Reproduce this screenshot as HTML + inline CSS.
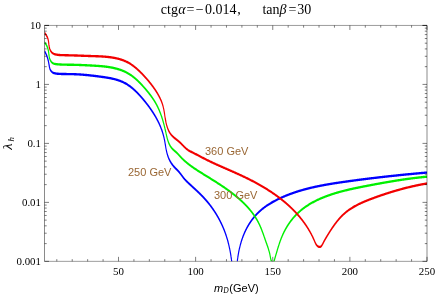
<!DOCTYPE html>
<html><head><meta charset="utf-8"><title>plot</title>
<style>
html,body{margin:0;padding:0;background:#fff;}
body{width:436px;height:294px;overflow:hidden;}
svg{display:block;will-change:transform;}
text{font-family:"Liberation Serif",serif;fill:#000;}
.sans{font-family:"Liberation Sans",sans-serif;}
</style></head><body>
<svg width="436" height="294" viewBox="0 0 436 294">
<rect width="436" height="294" fill="#fff"/>
<defs><clipPath id="c"><rect x="44.5" y="25.45" width="382.5" height="235.90000000000003"/></clipPath></defs>
<g clip-path="url(#c)"><g transform="scale(1,2.05)" fill="none" stroke-width="1.15" stroke-linejoin="round">
<path d="M44.49,24.928 L44.75,25.138 L45.00,25.349 L45.24,25.564 L45.48,25.780 L45.70,25.998 L45.92,26.218 L46.13,26.440 L46.33,26.663 L46.52,26.888 L46.71,27.115 L46.89,27.343 L47.06,27.572 L47.22,27.802 L47.38,28.034 L47.53,28.267 L47.67,28.500 L47.81,28.734 L47.94,28.969 L48.07,29.205 L48.19,29.441 L48.30,29.678 L48.41,29.915 L48.51,30.152 L48.61,30.390 L48.70,30.629 L48.79,30.868 L48.88,31.107 L48.97,31.348 L49.05,31.590 L49.14,31.833 L49.22,32.077 L49.31,32.321 L49.40,32.566 L49.51,32.809 L49.62,33.050 L49.75,33.288 L49.91,33.523 L50.08,33.752 L50.28,33.976 L50.51,34.193 L50.77,34.402 L51.06,34.601 L51.38,34.790 L51.72,34.966 L52.10,35.127 L52.49,35.273 L52.91,35.402 L53.35,35.513 L53.81,35.607 L54.29,35.685 L54.77,35.751 L55.27,35.806 L55.77,35.852 L56.28,35.891 L56.78,35.924 L57.29,35.953 L57.79,35.979 L58.29,36.001 L58.79,36.020 L59.29,36.036 L59.79,36.050 L60.28,36.062 L60.78,36.071 L61.28,36.080 L61.77,36.086 L62.27,36.092 L62.77,36.097 L63.27,36.102 L63.76,36.106 L64.26,36.109 L64.76,36.113 L65.26,36.116 L65.76,36.119 L66.26,36.122 L66.77,36.125 L67.27,36.128 L67.77,36.131 L68.27,36.134 L68.77,36.138 L69.27,36.141 L69.77,36.145 L70.28,36.148 L70.78,36.153 L71.28,36.157 L71.78,36.162 L72.28,36.168 L72.78,36.174 L73.28,36.181 L73.78,36.188 L74.28,36.196 L74.78,36.205 L75.27,36.214 L75.77,36.225 L76.27,36.236 L76.76,36.247 L77.26,36.259 L77.75,36.272 L78.25,36.286 L78.74,36.300 L79.24,36.315 L79.73,36.330 L80.22,36.346 L80.72,36.363 L81.21,36.380 L81.70,36.398 L82.19,36.416 L82.69,36.435 L83.18,36.455 L83.67,36.475 L84.16,36.495 L84.65,36.516 L85.15,36.538 L85.64,36.560 L86.13,36.583 L86.62,36.606 L87.11,36.629 L87.61,36.653 L88.10,36.678 L88.59,36.703 L89.08,36.728 L89.58,36.754 L90.07,36.780 L90.56,36.806 L91.06,36.833 L91.55,36.861 L92.05,36.889 L92.54,36.917 L93.04,36.945 L93.53,36.974 L94.03,37.003 L94.52,37.032 L95.02,37.062 L95.52,37.092 L96.02,37.123 L96.52,37.153 L97.01,37.184 L97.51,37.216 L98.01,37.247 L98.52,37.279 L99.02,37.311 L99.52,37.343 L100.02,37.375 L100.53,37.408 L101.03,37.441 L101.54,37.474 L102.04,37.508 L102.55,37.542 L103.06,37.577 L103.56,37.612 L104.07,37.648 L104.58,37.684 L105.08,37.721 L105.59,37.759 L106.10,37.798 L106.60,37.837 L107.11,37.878 L107.62,37.919 L108.12,37.962 L108.62,38.005 L109.13,38.050 L109.63,38.096 L110.13,38.143 L110.63,38.192 L111.13,38.241 L111.63,38.292 L112.13,38.345 L112.63,38.399 L113.12,38.454 L113.61,38.512 L114.11,38.570 L114.60,38.631 L115.08,38.693 L115.57,38.757 L116.05,38.823 L116.54,38.891 L117.02,38.961 L117.50,39.033 L117.97,39.107 L118.45,39.183 L118.92,39.261 L119.39,39.341 L119.85,39.424 L120.32,39.509 L120.78,39.596 L121.24,39.686 L121.69,39.778 L122.14,39.873 L122.59,39.970 L123.04,40.070 L123.48,40.173 L123.92,40.278 L124.35,40.386 L124.79,40.497 L125.22,40.611 L125.64,40.727 L126.06,40.845 L126.48,40.967 L126.90,41.090 L127.31,41.216 L127.73,41.344 L128.13,41.475 L128.54,41.608 L128.94,41.743 L129.34,41.881 L129.74,42.020 L130.13,42.162 L130.52,42.306 L130.91,42.451 L131.29,42.599 L131.68,42.748 L132.06,42.900 L132.44,43.053 L132.81,43.208 L133.19,43.365 L133.56,43.524 L133.93,43.684 L134.29,43.846 L134.66,44.009 L135.02,44.174 L135.38,44.340 L135.74,44.508 L136.10,44.677 L136.45,44.847 L136.80,45.019 L137.15,45.192 L137.50,45.367 L137.85,45.542 L138.19,45.718 L138.54,45.896 L138.88,46.075 L139.22,46.254 L139.56,46.435 L139.90,46.616 L140.23,46.798 L140.57,46.981 L140.90,47.165 L141.23,47.350 L141.56,47.535 L141.89,47.721 L142.22,47.907 L142.55,48.094 L142.88,48.281 L143.20,48.469 L143.52,48.658 L143.85,48.847 L144.17,49.036 L144.49,49.226 L144.81,49.417 L145.12,49.608 L145.44,49.800 L145.76,49.992 L146.07,50.184 L146.38,50.378 L146.69,50.571 L147.00,50.766 L147.31,50.960 L147.61,51.156 L147.92,51.352 L148.22,51.548 L148.52,51.745 L148.82,51.942 L149.12,52.140 L149.42,52.339 L149.71,52.538 L150.00,52.738 L150.29,52.938 L150.58,53.138 L150.87,53.340 L151.15,53.541 L151.44,53.744 L151.72,53.947 L152.00,54.150 L152.28,54.354 L152.55,54.559 L152.83,54.764 L153.10,54.969 L153.37,55.176 L153.63,55.382 L153.90,55.590 L154.16,55.798 L154.42,56.006 L154.68,56.215 L154.94,56.425 L155.19,56.635 L155.44,56.846 L155.69,57.057 L155.94,57.269 L156.18,57.481 L156.42,57.694 L156.66,57.908 L156.90,58.122 L157.13,58.337 L157.37,58.552 L157.60,58.768 L157.82,58.984 L158.05,59.201 L158.27,59.419 L158.49,59.637 L158.70,59.856 L158.92,60.075 L159.13,60.295 L159.34,60.516 L159.54,60.737 L159.74,60.958 L159.94,61.181 L160.14,61.404 L160.33,61.627 L160.52,61.851 L160.71,62.076 L160.89,62.301 L161.08,62.527 L161.25,62.753 L161.43,62.980 L161.60,63.208 L161.77,63.436 L161.94,63.665 L162.10,63.894 L162.26,64.124 L162.42,64.355 L162.57,64.586 L162.72,64.818 L162.86,65.051 L163.01,65.284 L163.15,65.518 L163.28,65.752 L163.42,65.987 L163.54,66.222 L163.67,66.459 L163.79,66.695 L163.91,66.933 L164.03,67.171 L164.14,67.409 L164.24,67.649 L164.35,67.889 L164.45,68.129 L164.55,68.370 L164.64,68.611 L164.73,68.853 L164.82,69.095 L164.91,69.338 L165.00,69.580 L165.08,69.823 L165.17,70.066 L165.25,70.309 L165.34,70.552 L165.42,70.795 L165.50,71.038 L165.59,71.281 L165.67,71.524 L165.76,71.766 L165.84,72.008 L165.93,72.250 L166.02,72.491 L166.12,72.732 L166.21,72.972 L166.31,73.212 L166.41,73.451 L166.51,73.690 L166.62,73.927 L166.73,74.164 L166.85,74.401 L166.97,74.636 L167.10,74.870 L167.23,75.103 L167.36,75.336 L167.51,75.567 L167.65,75.797 L167.81,76.025 L167.97,76.253 L168.14,76.479 L168.31,76.704 L168.49,76.927 L168.68,77.149 L168.87,77.370 L169.07,77.589 L169.28,77.806 L169.49,78.022 L169.72,78.236 L169.94,78.449 L170.18,78.660 L170.42,78.869 L170.67,79.076 L170.92,79.282 L171.19,79.486 L171.45,79.688 L171.73,79.888 L172.01,80.086 L172.30,80.282 L172.60,80.476 L172.90,80.668 L173.21,80.857 L173.53,81.045 L173.85,81.231 L174.18,81.414 L174.52,81.595 L174.86,81.773 L175.21,81.950 L175.57,82.125 L175.92,82.299 L176.28,82.473 L176.64,82.646 L177.00,82.820 L177.36,82.994 L177.71,83.170 L178.06,83.347 L178.40,83.527 L178.73,83.709 L179.06,83.894 L179.38,84.081 L179.69,84.270 L180.00,84.461 L180.31,84.653 L180.61,84.846 L180.91,85.041 L181.20,85.236 L181.50,85.431 L181.79,85.626 L182.09,85.821 L182.38,86.016 L182.68,86.210 L182.97,86.403 L183.28,86.595 L183.58,86.786 L183.89,86.975 L184.21,87.161 L184.53,87.346 L184.85,87.528 L185.19,87.707 L185.53,87.885 L185.87,88.060 L186.22,88.234 L186.57,88.406 L186.93,88.577 L187.29,88.746 L187.65,88.915 L188.01,89.083 L188.38,89.251 L188.74,89.418 L189.11,89.585 L189.48,89.751 L189.84,89.918 L190.21,90.084 L190.58,90.250 L190.95,90.416 L191.31,90.582 L191.68,90.748 L192.05,90.914 L192.42,91.079 L192.79,91.245 L193.16,91.410 L193.53,91.576 L193.89,91.742 L194.26,91.908 L194.63,92.074 L195.00,92.240 L195.37,92.406 L195.73,92.573 L196.10,92.739 L196.47,92.906 L196.83,93.074 L197.19,93.241 L197.56,93.409 L197.92,93.578 L198.28,93.746 L198.65,93.915 L199.01,94.085 L199.37,94.255 L199.72,94.425 L200.08,94.596 L200.44,94.768 L200.79,94.940 L201.14,95.113 L201.50,95.286 L201.85,95.460 L202.20,95.635 L202.54,95.810 L202.89,95.986 L203.23,96.163 L203.58,96.341 L203.92,96.520 L204.26,96.699 L204.59,96.879 L204.93,97.060 L205.26,97.242 L205.59,97.424 L205.92,97.608 L206.25,97.792 L206.58,97.977 L206.90,98.163 L207.23,98.349 L207.55,98.537 L207.87,98.725 L208.18,98.914 L208.50,99.103 L208.81,99.293 L209.12,99.485 L209.43,99.676 L209.74,99.869 L210.04,100.062 L210.35,100.256 L210.65,100.451 L210.95,100.647 L211.25,100.843 L211.54,101.040 L211.83,101.237 L212.13,101.435 L212.42,101.634 L212.70,101.834 L212.99,102.034 L213.27,102.235 L213.56,102.437 L213.84,102.639 L214.11,102.842 L214.39,103.046 L214.66,103.250 L214.94,103.455 L215.21,103.660 L215.47,103.866 L215.74,104.073 L216.00,104.280 L216.26,104.488 L216.52,104.697 L216.78,104.906 L217.04,105.116 L217.29,105.326 L217.54,105.537 L217.79,105.748 L218.04,105.960 L218.28,106.173 L218.52,106.386 L218.77,106.600 L219.00,106.814 L219.24,107.029 L219.47,107.244 L219.71,107.460 L219.94,107.677 L220.16,107.894 L220.39,108.111 L220.61,108.329 L220.84,108.547 L221.05,108.766 L221.27,108.986 L221.49,109.206 L221.70,109.426 L221.91,109.647 L222.12,109.869 L222.32,110.090 L222.53,110.313 L222.73,110.535 L222.93,110.759 L223.12,110.982 L223.32,111.206 L223.51,111.431 L223.70,111.656 L223.89,111.881 L224.08,112.107 L224.26,112.333 L224.44,112.560 L224.62,112.787 L224.80,113.014 L224.97,113.242 L225.14,113.470 L225.31,113.698 L225.48,113.927 L225.64,114.156 L225.81,114.386 L225.97,114.616 L226.13,114.846 L226.28,115.077 L226.43,115.308 L226.59,115.539 L226.73,115.771 L226.88,116.003 L227.03,116.236 L227.17,116.468 L227.31,116.701 L227.45,116.935 L227.58,117.168 L227.72,117.402 L227.85,117.636 L227.98,117.871 L228.11,118.106 L228.23,118.341 L228.35,118.576 L228.48,118.812 L228.60,119.048 L228.71,119.285 L228.83,119.521 L228.94,119.758 L229.06,119.995 L229.16,120.232 L229.27,120.470 L229.38,120.708 L229.48,120.946 L229.59,121.185 L229.69,121.423 L229.79,121.662 L229.88,121.901 L229.98,122.141 L230.07,122.380 L230.16,122.620 L230.25,122.860 L230.34,123.100 L230.43,123.341 L230.52,123.582 L230.60,123.823 L230.68,124.064 L230.76,124.305 L230.84,124.546 L230.92,124.788 L230.99,125.030 L231.07,125.272 L231.14,125.514 L231.21,125.757 L231.28,125.999 L231.35,126.242 L231.42,126.485 L231.48,126.728 L231.55,126.972 L231.61,127.215 L231.67,127.459 L231.73,127.702 L231.79,127.946 L231.85,128.190 L231.91,128.434 L231.96,128.679 L232.02,128.923 L232.07,129.168 L232.12,129.412 L232.17,129.657 L232.22,129.902 L232.27,130.147 L232.31,130.392 L232.36,130.637 L232.40,130.883 L232.45,131.128 L232.49,131.373 L232.53,131.619 L232.57,131.865 L232.61,132.110 L232.65,132.356 L232.69,132.602 L232.72,132.848 L232.76,133.094 L232.79,133.340 L232.83,133.586 L232.86,133.832 L232.89,134.079 L232.92,134.325 L232.95,134.571 L232.98,134.818 L233.01,135.064 L233.04,135.311 L233.07,135.557 L233.09,135.803 L233.12,136.050 L233.14,136.296 L233.17,136.543 L233.19,136.790 L233.21,137.036 L233.24,137.283 L233.26,137.529 L233.28,137.776 L233.30,138.022 L233.32,138.269 L233.34,138.515 L233.36,138.762 L233.38,139.008 L233.40,139.254 L233.41,139.501 L233.43,139.747 L233.45,139.993 L233.46,140.240 L233.48,140.486 L233.49,140.732 L233.51,140.978 L233.52,141.224 L233.54,141.470 L233.55,141.716 L233.57,141.962 L233.58,142.207 L233.59,142.453 L233.61,142.699 L233.62,142.944 L233.63,143.190 L233.64,143.435 L233.66,143.680 L233.67,143.925 L233.68,144.170 L233.69,144.415 L233.70,144.660 L233.72,144.904 L233.73,145.149 L233.74,145.393 L233.75,145.638 L233.76,145.882 L233.77,146.126 L233.79,146.370 L233.80,146.613 L233.81,146.857 L233.82,147.100 L233.83,147.344 L233.85,147.587 L233.86,147.830 L233.87,148.073 L233.88,148.315 L233.90,148.558 L233.91,148.800 L233.92,149.042 L233.94,149.284 L233.95,149.526 L233.96,149.767 L233.98,150.008 L233.99,150.249 L234.01,150.490 L234.02,150.731 L234.04,150.972 L234.06,151.212 L234.07,151.452 L234.09,151.692 L234.11,151.931 L234.13,152.171 L234.14,152.410 L234.16,152.649 L234.18,152.887 L234.20,153.126 L234.22,153.364 L234.25,153.602 L234.27,153.839 L234.29,154.077 L234.31,154.314 L234.34,154.551 L234.36,154.787 L234.39,155.024 L234.41,155.260 L234.44,155.495 L234.47,155.731 L234.49,155.966 L234.51,156.093 M234.49,156.084 L234.54,155.858 L234.58,155.631 L234.62,155.404 L234.66,155.176 L234.69,154.948 L234.73,154.719 L234.77,154.490 L234.80,154.260 L234.83,154.030 L234.87,153.799 L234.90,153.567 L234.93,153.335 L234.96,153.103 L234.98,152.870 L235.01,152.637 L235.04,152.403 L235.06,152.169 L235.09,151.934 L235.11,151.699 L235.13,151.463 L235.15,151.227 L235.17,150.991 L235.20,150.754 L235.21,150.517 L235.23,150.279 L235.25,150.041 L235.27,149.802 L235.29,149.564 L235.30,149.324 L235.32,149.085 L235.33,148.845 L235.35,148.604 L235.36,148.364 L235.38,148.123 L235.39,147.881 L235.40,147.640 L235.41,147.398 L235.43,147.155 L235.44,146.912 L235.45,146.670 L235.46,146.426 L235.47,146.183 L235.48,145.939 L235.49,145.695 L235.50,145.450 L235.51,145.206 L235.52,144.961 L235.53,144.716 L235.54,144.470 L235.55,144.225 L235.56,143.979 L235.56,143.733 L235.57,143.486 L235.58,143.240 L235.59,142.993 L235.60,142.746 L235.61,142.499 L235.62,142.252 L235.63,142.004 L235.64,141.757 L235.65,141.509 L235.66,141.261 L235.67,141.013 L235.68,140.765 L235.69,140.516 L235.70,140.268 L235.71,140.019 L235.72,139.770 L235.74,139.521 L235.75,139.272 L235.76,139.023 L235.77,138.774 L235.79,138.525 L235.80,138.276 L235.82,138.026 L235.83,137.777 L235.85,137.527 L235.86,137.278 L235.88,137.028 L235.90,136.779 L235.92,136.529 L235.94,136.280 L235.96,136.030 L235.98,135.780 L236.00,135.531 L236.02,135.281 L236.05,135.031 L236.07,134.782 L236.09,134.532 L236.12,134.283 L236.15,134.033 L236.17,133.784 L236.20,133.534 L236.23,133.285 L236.26,133.035 L236.29,132.786 L236.33,132.537 L236.36,132.288 L236.40,132.039 L236.43,131.790 L236.47,131.542 L236.51,131.293 L236.55,131.044 L236.59,130.796 L236.63,130.548 L236.67,130.300 L236.72,130.052 L236.77,129.804 L236.81,129.556 L236.86,129.309 L236.91,129.062 L236.96,128.815 L237.02,128.568 L237.07,128.321 L237.13,128.075 L237.19,127.828 L237.24,127.582 L237.31,127.336 L237.37,127.091 L237.43,126.845 L237.50,126.600 L237.57,126.355 L237.63,126.111 L237.71,125.866 L237.78,125.622 L237.85,125.378 L237.93,125.135 L238.01,124.892 L238.09,124.649 L238.17,124.406 L238.25,124.164 L238.34,123.922 L238.43,123.680 L238.52,123.439 L238.61,123.198 L238.70,122.957 L238.80,122.717 L238.90,122.477 L239.00,122.237 L239.10,121.998 L239.20,121.759 L239.31,121.521 L239.42,121.283 L239.53,121.045 L239.64,120.808 L239.76,120.571 L239.87,120.335 L239.99,120.099 L240.12,119.863 L240.24,119.628 L240.37,119.393 L240.50,119.159 L240.63,118.925 L240.77,118.692 L240.90,118.459 L241.04,118.227 L241.18,117.995 L241.33,117.764 L241.48,117.533 L241.63,117.303 L241.78,117.073 L241.93,116.843 L242.09,116.615 L242.25,116.386 L242.42,116.159 L242.58,115.932 L242.75,115.705 L242.92,115.479 L243.10,115.254 L243.28,115.029 L243.46,114.804 L243.64,114.581 L243.83,114.358 L244.02,114.135 L244.21,113.913 L244.40,113.692 L244.60,113.471 L244.80,113.251 L245.01,113.032 L245.22,112.813 L245.43,112.595 L245.64,112.378 L245.86,112.161 L246.08,111.945 L246.30,111.729 L246.53,111.515 L246.76,111.301 L246.99,111.087 L247.23,110.875 L247.47,110.663 L247.71,110.452 L247.96,110.241 L248.21,110.032 L248.47,109.823 L248.72,109.615 L248.98,109.408 L249.25,109.202 L249.51,108.996 L249.78,108.792 L250.06,108.589 L250.33,108.386 L250.61,108.185 L250.89,107.985 L251.18,107.785 L251.47,107.587 L251.76,107.390 L252.06,107.194 L252.36,106.999 L252.66,106.805 L252.96,106.612 L253.27,106.421 L253.58,106.231 L253.90,106.042 L254.22,105.854 L254.54,105.668 L254.86,105.482 L255.19,105.299 L255.52,105.116 L255.85,104.935 L256.19,104.756 L256.53,104.577 L256.87,104.400 L257.22,104.225 L257.57,104.051 L257.92,103.879 L258.27,103.708 L258.63,103.539 L258.99,103.371 L259.36,103.205 L259.72,103.041 L260.09,102.878 L260.47,102.716 L260.84,102.557 L261.22,102.398 L261.60,102.242 L261.98,102.086 L262.37,101.933 L262.76,101.780 L263.15,101.630 L263.55,101.480 L263.94,101.332 L264.34,101.186 L264.74,101.041 L265.15,100.897 L265.55,100.755 L265.96,100.614 L266.37,100.474 L266.78,100.336 L267.20,100.199 L267.62,100.063 L268.03,99.929 L268.45,99.796 L268.88,99.664 L269.30,99.534 L269.73,99.405 L270.15,99.277 L270.58,99.150 L271.01,99.024 L271.45,98.900 L271.88,98.777 L272.32,98.655 L272.75,98.534 L273.19,98.414 L273.63,98.295 L274.07,98.178 L274.52,98.061 L274.96,97.946 L275.40,97.832 L275.85,97.719 L276.30,97.606 L276.74,97.495 L277.19,97.385 L277.64,97.276 L278.09,97.168 L278.55,97.061 L279.00,96.955 L279.45,96.849 L279.90,96.745 L280.36,96.642 L280.81,96.539 L281.27,96.437 L281.73,96.337 L282.18,96.237 L282.64,96.138 L283.10,96.040 L283.56,95.943 L284.01,95.847 L284.47,95.751 L284.94,95.657 L285.40,95.563 L285.86,95.470 L286.32,95.378 L286.78,95.287 L287.25,95.196 L287.71,95.107 L288.17,95.018 L288.64,94.930 L289.10,94.843 L289.57,94.757 L290.04,94.671 L290.50,94.587 L290.97,94.503 L291.44,94.420 L291.91,94.337 L292.38,94.256 L292.85,94.175 L293.32,94.095 L293.79,94.015 L294.26,93.937 L294.73,93.859 L295.20,93.782 L295.67,93.705 L296.15,93.630 L296.62,93.555 L297.09,93.480 L297.57,93.407 L298.04,93.334 L298.52,93.262 L298.99,93.190 L299.47,93.119 L299.95,93.049 L300.42,92.979 L300.90,92.910 L301.38,92.842 L301.86,92.775 L302.34,92.708 L302.82,92.641 L303.29,92.576 L303.77,92.511 L304.25,92.446 L304.74,92.382 L305.22,92.319 L305.70,92.256 L306.18,92.194 L306.66,92.133 L307.14,92.072 L307.63,92.012 L308.11,91.952 L308.59,91.893 L309.08,91.834 L309.56,91.776 L310.05,91.719 L310.53,91.662 L311.02,91.605 L311.50,91.549 L311.99,91.494 L312.47,91.439 L312.96,91.384 L313.45,91.330 L313.93,91.277 L314.42,91.224 L314.91,91.172 L315.40,91.120 L315.89,91.068 L316.37,91.017 L316.86,90.967 L317.35,90.917 L317.84,90.867 L318.33,90.818 L318.82,90.769 L319.31,90.721 L319.80,90.673 L320.29,90.625 L320.78,90.578 L321.27,90.531 L321.76,90.485 L322.26,90.439 L322.75,90.394 L323.24,90.349 L323.73,90.304 L324.22,90.259 L324.71,90.215 L325.21,90.172 L325.70,90.128 L326.19,90.085 L326.69,90.043 L327.18,90.001 L327.67,89.959 L328.17,89.917 L328.66,89.876 L329.15,89.835 L329.65,89.794 L330.14,89.754 L330.64,89.713 L331.13,89.674 L331.62,89.634 L332.12,89.595 L332.61,89.556 L333.11,89.517 L333.60,89.479 L334.10,89.440 L334.59,89.402 L335.09,89.365 L335.58,89.327 L336.08,89.290 L336.58,89.253 L337.07,89.216 L337.57,89.179 L338.06,89.143 L338.56,89.107 L339.05,89.071 L339.55,89.035 L340.05,88.999 L340.54,88.964 L341.04,88.928 L341.53,88.893 L342.03,88.858 L342.53,88.823 L343.02,88.789 L343.52,88.754 L344.01,88.720 L344.51,88.685 L345.01,88.651 L345.50,88.617 L346.00,88.583 L346.49,88.549 L346.99,88.515 L347.48,88.482 L347.98,88.448 L348.48,88.415 L348.97,88.381 L349.47,88.348 L349.96,88.315 L350.46,88.282 L350.96,88.249 L351.45,88.216 L351.95,88.183 L352.44,88.150 L352.94,88.117 L353.43,88.085 L353.93,88.052 L354.43,88.020 L354.92,87.988 L355.42,87.955 L355.91,87.923 L356.41,87.891 L356.90,87.859 L357.40,87.828 L357.89,87.796 L358.39,87.764 L358.89,87.733 L359.38,87.701 L359.88,87.670 L360.37,87.639 L360.87,87.607 L361.36,87.576 L361.86,87.545 L362.35,87.514 L362.85,87.484 L363.34,87.453 L363.84,87.422 L364.34,87.392 L364.83,87.361 L365.33,87.331 L365.82,87.300 L366.32,87.270 L366.81,87.240 L367.31,87.210 L367.80,87.180 L368.30,87.150 L368.79,87.121 L369.29,87.091 L369.79,87.061 L370.28,87.032 L370.78,87.002 L371.27,86.973 L371.77,86.944 L372.26,86.915 L372.76,86.885 L373.25,86.856 L373.75,86.828 L374.25,86.799 L374.74,86.770 L375.24,86.741 L375.73,86.713 L376.23,86.684 L376.72,86.656 L377.22,86.627 L377.71,86.599 L378.21,86.571 L378.71,86.543 L379.20,86.515 L379.70,86.487 L380.19,86.459 L380.69,86.431 L381.18,86.404 L381.68,86.376 L382.18,86.349 L382.67,86.321 L383.17,86.294 L383.66,86.267 L384.16,86.239 L384.66,86.212 L385.15,86.185 L385.65,86.158 L386.14,86.131 L386.64,86.105 L387.14,86.078 L387.63,86.051 L388.13,86.025 L388.62,85.998 L389.12,85.972 L389.62,85.945 L390.11,85.919 L390.61,85.893 L391.11,85.867 L391.60,85.841 L392.10,85.815 L392.60,85.789 L393.09,85.763 L393.59,85.738 L394.08,85.712 L394.58,85.686 L395.08,85.661 L395.57,85.636 L396.07,85.610 L396.57,85.585 L397.06,85.560 L397.56,85.535 L398.06,85.510 L398.56,85.485 L399.05,85.460 L399.55,85.435 L400.05,85.410 L400.54,85.386 L401.04,85.361 L401.54,85.337 L402.04,85.312 L402.53,85.288 L403.03,85.263 L403.53,85.239 L404.02,85.215 L404.52,85.191 L405.02,85.167 L405.52,85.143 L406.02,85.119 L406.51,85.095 L407.01,85.072 L407.51,85.048 L408.01,85.024 L408.50,85.001 L409.00,84.977 L409.50,84.954 L410.00,84.931 L410.50,84.908 L410.99,84.884 L411.49,84.861 L411.99,84.838 L412.49,84.815 L412.99,84.792 L413.49,84.770 L413.99,84.747 L414.48,84.724 L414.98,84.702 L415.48,84.679 L415.98,84.657 L416.48,84.634 L416.98,84.612 L417.48,84.589 L417.98,84.567 L418.48,84.545 L418.98,84.523 L419.47,84.501 L419.97,84.479 L420.47,84.457 L420.97,84.435 L421.47,84.414 L421.97,84.392 L422.47,84.370 L422.97,84.349 L423.47,84.327 L423.97,84.306 L424.47,84.284 L424.97,84.263 L425.47,84.242 L425.97,84.221 L426.47,84.199 L426.97,84.178 L427.47,84.157 L427.52,84.155" stroke="#0000ff"/>
<path d="M44.49,20.681 L44.83,20.871 L45.15,21.064 L45.46,21.262 L45.74,21.464 L46.02,21.669 L46.27,21.877 L46.51,22.089 L46.74,22.305 L46.95,22.523 L47.15,22.744 L47.33,22.968 L47.51,23.194 L47.67,23.423 L47.82,23.655 L47.95,23.888 L48.08,24.123 L48.20,24.360 L48.31,24.599 L48.41,24.839 L48.50,25.081 L48.58,25.324 L48.66,25.567 L48.73,25.812 L48.79,26.057 L48.85,26.303 L48.91,26.548 L48.98,26.793 L49.04,27.037 L49.11,27.280 L49.19,27.522 L49.28,27.762 L49.38,28.000 L49.49,28.236 L49.62,28.469 L49.76,28.699 L49.93,28.927 L50.11,29.150 L50.32,29.370 L50.55,29.586 L50.80,29.798 L51.09,30.003 L51.40,30.201 L51.74,30.387 L52.11,30.558 L52.50,30.712 L52.91,30.846 L53.35,30.958 L53.81,31.049 L54.29,31.124 L54.78,31.183 L55.28,31.230 L55.79,31.268 L56.30,31.299 L56.81,31.326 L57.31,31.351 L57.82,31.374 L58.32,31.395 L58.82,31.413 L59.32,31.431 L59.81,31.446 L60.31,31.460 L60.80,31.472 L61.30,31.484 L61.79,31.494 L62.29,31.503 L62.78,31.512 L63.28,31.519 L63.78,31.526 L64.28,31.533 L64.78,31.539 L65.27,31.544 L65.77,31.549 L66.27,31.554 L66.77,31.558 L67.28,31.562 L67.78,31.565 L68.28,31.569 L68.78,31.572 L69.28,31.575 L69.78,31.578 L70.28,31.582 L70.79,31.585 L71.29,31.588 L71.79,31.592 L72.29,31.595 L72.79,31.599 L73.29,31.604 L73.79,31.608 L74.29,31.614 L74.79,31.619 L75.28,31.625 L75.78,31.631 L76.28,31.638 L76.77,31.645 L77.27,31.653 L77.77,31.661 L78.26,31.669 L78.76,31.678 L79.25,31.687 L79.75,31.696 L80.24,31.705 L80.74,31.715 L81.23,31.725 L81.73,31.735 L82.22,31.746 L82.72,31.757 L83.21,31.768 L83.71,31.779 L84.20,31.790 L84.70,31.802 L85.19,31.813 L85.69,31.825 L86.18,31.837 L86.68,31.849 L87.18,31.862 L87.68,31.874 L88.18,31.886 L88.67,31.899 L89.17,31.911 L89.67,31.924 L90.17,31.937 L90.68,31.949 L91.18,31.962 L91.68,31.975 L92.18,31.988 L92.69,32.001 L93.19,32.015 L93.70,32.028 L94.20,32.042 L94.71,32.057 L95.21,32.071 L95.72,32.086 L96.23,32.102 L96.73,32.117 L97.24,32.134 L97.74,32.151 L98.25,32.168 L98.76,32.186 L99.26,32.205 L99.77,32.224 L100.28,32.244 L100.78,32.265 L101.29,32.286 L101.79,32.309 L102.30,32.332 L102.81,32.356 L103.31,32.381 L103.81,32.407 L104.32,32.433 L104.82,32.461 L105.32,32.490 L105.83,32.520 L106.33,32.551 L106.83,32.583 L107.33,32.616 L107.83,32.651 L108.33,32.686 L108.82,32.723 L109.32,32.762 L109.82,32.801 L110.31,32.842 L110.81,32.885 L111.30,32.928 L111.79,32.974 L112.28,33.020 L112.77,33.069 L113.26,33.119 L113.75,33.170 L114.23,33.223 L114.72,33.278 L115.20,33.335 L115.68,33.393 L116.16,33.453 L116.64,33.515 L117.12,33.579 L117.59,33.645 L118.07,33.712 L118.54,33.782 L119.01,33.853 L119.48,33.927 L119.94,34.002 L120.41,34.080 L120.87,34.160 L121.33,34.241 L121.79,34.326 L122.25,34.412 L122.71,34.500 L123.16,34.591 L123.61,34.685 L124.06,34.780 L124.50,34.878 L124.95,34.978 L125.39,35.081 L125.83,35.186 L126.27,35.294 L126.70,35.405 L127.13,35.518 L127.56,35.633 L127.99,35.752 L128.41,35.873 L128.84,35.996 L129.26,36.123 L129.67,36.252 L130.09,36.383 L130.50,36.517 L130.91,36.653 L131.31,36.792 L131.72,36.933 L132.12,37.077 L132.52,37.222 L132.92,37.370 L133.31,37.520 L133.70,37.671 L134.09,37.825 L134.48,37.981 L134.87,38.139 L135.25,38.298 L135.63,38.459 L136.01,38.622 L136.39,38.787 L136.76,38.953 L137.13,39.120 L137.50,39.289 L137.87,39.460 L138.24,39.632 L138.60,39.805 L138.97,39.980 L139.33,40.155 L139.69,40.332 L140.04,40.510 L140.40,40.689 L140.75,40.869 L141.10,41.050 L141.45,41.231 L141.80,41.414 L142.15,41.597 L142.49,41.781 L142.84,41.965 L143.18,42.151 L143.52,42.336 L143.86,42.522 L144.19,42.709 L144.53,42.896 L144.86,43.083 L145.20,43.271 L145.53,43.458 L145.86,43.647 L146.18,43.835 L146.51,44.024 L146.83,44.213 L147.16,44.402 L147.48,44.592 L147.79,44.783 L148.11,44.973 L148.43,45.164 L148.74,45.356 L149.05,45.548 L149.36,45.741 L149.66,45.934 L149.97,46.127 L150.27,46.322 L150.57,46.516 L150.87,46.712 L151.16,46.908 L151.45,47.104 L151.74,47.301 L152.03,47.499 L152.31,47.697 L152.59,47.897 L152.87,48.096 L153.15,48.297 L153.42,48.498 L153.69,48.700 L153.96,48.903 L154.22,49.106 L154.48,49.311 L154.74,49.516 L155.00,49.722 L155.25,49.929 L155.50,50.136 L155.74,50.345 L155.98,50.554 L156.22,50.765 L156.45,50.976 L156.69,51.188 L156.91,51.401 L157.14,51.615 L157.36,51.829 L157.58,52.045 L157.79,52.261 L158.01,52.478 L158.21,52.696 L158.42,52.915 L158.62,53.135 L158.82,53.355 L159.02,53.576 L159.22,53.797 L159.41,54.020 L159.60,54.243 L159.78,54.467 L159.97,54.691 L160.15,54.917 L160.33,55.142 L160.50,55.369 L160.68,55.596 L160.85,55.824 L161.02,56.052 L161.18,56.281 L161.35,56.511 L161.51,56.741 L161.67,56.972 L161.83,57.203 L161.98,57.434 L162.13,57.667 L162.29,57.900 L162.43,58.133 L162.58,58.367 L162.73,58.601 L162.87,58.836 L163.01,59.071 L163.15,59.306 L163.29,59.542 L163.42,59.779 L163.56,60.016 L163.69,60.253 L163.82,60.490 L163.95,60.728 L164.08,60.967 L164.21,61.205 L164.33,61.444 L164.46,61.684 L164.58,61.923 L164.70,62.163 L164.82,62.403 L164.94,62.644 L165.05,62.884 L165.17,63.125 L165.29,63.366 L165.40,63.608 L165.51,63.849 L165.63,64.091 L165.74,64.333 L165.85,64.575 L165.96,64.817 L166.07,65.059 L166.17,65.302 L166.28,65.544 L166.39,65.785 L166.50,66.027 L166.62,66.268 L166.73,66.508 L166.85,66.748 L166.97,66.987 L167.09,67.224 L167.22,67.461 L167.35,67.697 L167.48,67.931 L167.62,68.165 L167.76,68.396 L167.91,68.626 L168.07,68.854 L168.23,69.081 L168.40,69.305 L168.57,69.528 L168.76,69.748 L168.95,69.967 L169.15,70.182 L169.36,70.396 L169.57,70.606 L169.80,70.815 L170.04,71.020 L170.28,71.222 L170.54,71.421 L170.81,71.618 L171.09,71.811 L171.38,72.000 L171.69,72.186 L172.00,72.369 L172.33,72.548 L172.68,72.723 L173.04,72.895 L173.40,73.064 L173.78,73.230 L174.16,73.395 L174.55,73.559 L174.94,73.723 L175.33,73.886 L175.71,74.051 L176.10,74.217 L176.48,74.385 L176.85,74.556 L177.21,74.730 L177.57,74.907 L177.91,75.086 L178.25,75.267 L178.59,75.449 L178.92,75.632 L179.26,75.815 L179.59,75.998 L179.92,76.180 L180.25,76.360 L180.59,76.539 L180.93,76.716 L181.28,76.892 L181.62,77.066 L181.97,77.239 L182.33,77.410 L182.68,77.579 L183.04,77.747 L183.40,77.914 L183.76,78.079 L184.12,78.243 L184.49,78.406 L184.86,78.567 L185.23,78.727 L185.61,78.886 L185.98,79.043 L186.36,79.200 L186.74,79.355 L187.12,79.509 L187.51,79.661 L187.89,79.813 L188.28,79.964 L188.67,80.113 L189.07,80.262 L189.46,80.409 L189.86,80.556 L190.25,80.701 L190.65,80.846 L191.05,80.990 L191.45,81.133 L191.86,81.275 L192.26,81.416 L192.67,81.556 L193.08,81.696 L193.49,81.835 L193.90,81.973 L194.31,82.110 L194.72,82.247 L195.14,82.383 L195.55,82.519 L195.97,82.654 L196.38,82.788 L196.80,82.922 L197.22,83.056 L197.64,83.188 L198.06,83.321 L198.48,83.453 L198.90,83.584 L199.33,83.715 L199.75,83.846 L200.17,83.977 L200.60,84.107 L201.02,84.237 L201.45,84.367 L201.87,84.496 L202.30,84.625 L202.72,84.754 L203.15,84.883 L203.57,85.012 L204.00,85.141 L204.43,85.269 L204.85,85.398 L205.28,85.526 L205.71,85.655 L206.13,85.783 L206.56,85.912 L206.99,86.040 L207.41,86.169 L207.84,86.298 L208.26,86.426 L208.69,86.555 L209.12,86.684 L209.54,86.812 L209.97,86.941 L210.39,87.070 L210.82,87.199 L211.24,87.329 L211.67,87.458 L212.09,87.587 L212.52,87.717 L212.94,87.847 L213.36,87.977 L213.79,88.107 L214.21,88.237 L214.63,88.367 L215.06,88.498 L215.48,88.629 L215.90,88.760 L216.32,88.891 L216.74,89.023 L217.16,89.154 L217.58,89.286 L218.00,89.419 L218.42,89.551 L218.84,89.684 L219.26,89.817 L219.68,89.951 L220.10,90.085 L220.51,90.219 L220.93,90.353 L221.35,90.488 L221.76,90.623 L222.18,90.759 L222.59,90.895 L223.00,91.031 L223.42,91.168 L223.83,91.305 L224.24,91.443 L224.65,91.581 L225.06,91.719 L225.47,91.858 L225.88,91.997 L226.29,92.137 L226.70,92.277 L227.11,92.418 L227.51,92.559 L227.92,92.701 L228.32,92.843 L228.73,92.986 L229.13,93.129 L229.53,93.273 L229.93,93.418 L230.34,93.563 L230.74,93.708 L231.13,93.854 L231.53,94.001 L231.93,94.148 L232.33,94.296 L232.72,94.445 L233.12,94.594 L233.51,94.744 L233.90,94.895 L234.29,95.046 L234.68,95.198 L235.07,95.350 L235.46,95.503 L235.85,95.657 L236.24,95.812 L236.62,95.967 L237.01,96.123 L237.39,96.280 L237.77,96.438 L238.15,96.596 L238.53,96.755 L238.91,96.914 L239.28,97.075 L239.66,97.236 L240.03,97.398 L240.40,97.561 L240.77,97.724 L241.14,97.888 L241.51,98.053 L241.88,98.219 L242.24,98.386 L242.60,98.553 L242.96,98.721 L243.32,98.890 L243.68,99.060 L244.04,99.231 L244.39,99.402 L244.74,99.574 L245.09,99.747 L245.44,99.921 L245.78,100.096 L246.13,100.272 L246.47,100.448 L246.81,100.625 L247.15,100.804 L247.49,100.983 L247.82,101.163 L248.15,101.343 L248.48,101.525 L248.81,101.708 L249.13,101.891 L249.45,102.076 L249.77,102.261 L250.09,102.447 L250.41,102.635 L250.72,102.823 L251.03,103.012 L251.34,103.202 L251.65,103.393 L251.95,103.585 L252.25,103.777 L252.55,103.971 L252.84,104.166 L253.13,104.362 L253.42,104.558 L253.71,104.756 L254.00,104.955 L254.28,105.155 L254.56,105.355 L254.83,105.557 L255.10,105.760 L255.37,105.963 L255.64,106.168 L255.90,106.374 L256.17,106.581 L256.42,106.789 L256.68,106.998 L256.93,107.207 L257.18,107.419 L257.42,107.631 L257.66,107.844 L257.90,108.058 L258.14,108.273 L258.37,108.490 L258.60,108.707 L258.82,108.926 L259.05,109.145 L259.26,109.366 L259.48,109.588 L259.69,109.811 L259.90,110.034 L260.11,110.259 L260.31,110.484 L260.51,110.710 L260.71,110.937 L260.90,111.165 L261.10,111.393 L261.29,111.621 L261.47,111.851 L261.66,112.080 L261.84,112.310 L262.02,112.541 L262.20,112.771 L262.38,113.002 L262.56,113.233 L262.73,113.465 L262.90,113.696 L263.07,113.927 L263.24,114.159 L263.41,114.390 L263.58,114.621 L263.75,114.852 L263.91,115.083 L264.08,115.314 L264.24,115.544 L264.40,115.774 L264.57,116.003 L264.73,116.232 L264.89,116.461 L265.05,116.688 L265.21,116.916 L265.38,117.142 L265.54,117.368 L265.70,117.593 L265.86,117.817 L266.02,118.040 L266.18,118.263 L266.35,118.485 L266.51,118.706 L266.67,118.927 L266.83,119.148 L266.99,119.369 L267.15,119.591 L267.31,119.812 L267.47,120.035 L267.63,120.258 L267.79,120.482 L267.94,120.707 L268.09,120.933 L268.24,121.161 L268.39,121.390 L268.54,121.622 L268.68,121.855 L268.83,122.090 L268.97,122.328 L269.10,122.568 L269.24,122.811 L269.37,123.056 L269.50,123.305 L269.62,123.556 L269.74,123.811 L269.86,124.070 L269.97,124.332 L270.08,124.598 L270.18,124.868 L270.29,125.140 L270.39,125.412 L270.49,125.683 L270.60,125.951 L270.72,126.213 L270.84,126.469 L270.97,126.716 L271.12,126.953 L271.27,127.178 L271.45,127.389 L271.64,127.584 L271.85,127.762 L272.08,127.920 L272.33,128.058 L272.61,128.171 L272.90,128.240 L273.15,128.237 L273.38,128.160 L273.58,128.022 L273.75,127.837 L273.91,127.620 L274.06,127.385 L274.21,127.144 L274.36,126.903 L274.51,126.663 L274.65,126.422 L274.80,126.182 L274.94,125.942 L275.09,125.702 L275.23,125.462 L275.37,125.223 L275.51,124.984 L275.65,124.745 L275.80,124.506 L275.94,124.267 L276.08,124.029 L276.22,123.791 L276.36,123.553 L276.50,123.315 L276.64,123.078 L276.78,122.841 L276.93,122.604 L277.07,122.368 L277.21,122.132 L277.35,121.896 L277.50,121.661 L277.64,121.425 L277.79,121.191 L277.94,120.956 L278.08,120.722 L278.23,120.488 L278.38,120.255 L278.53,120.022 L278.68,119.789 L278.84,119.557 L278.99,119.325 L279.15,119.093 L279.30,118.862 L279.46,118.632 L279.62,118.402 L279.79,118.172 L279.95,117.942 L280.12,117.714 L280.29,117.485 L280.46,117.257 L280.63,117.030 L280.80,116.803 L280.98,116.576 L281.16,116.350 L281.34,116.125 L281.53,115.900 L281.71,115.675 L281.90,115.451 L282.09,115.228 L282.29,115.005 L282.49,114.783 L282.69,114.561 L282.89,114.340 L283.10,114.119 L283.31,113.899 L283.52,113.680 L283.74,113.461 L283.96,113.243 L284.18,113.025 L284.41,112.808 L284.64,112.592 L284.87,112.377 L285.11,112.162 L285.34,111.948 L285.59,111.735 L285.83,111.522 L286.08,111.311 L286.33,111.100 L286.58,110.890 L286.84,110.680 L287.10,110.472 L287.36,110.265 L287.63,110.058 L287.90,109.852 L288.17,109.648 L288.45,109.444 L288.72,109.241 L289.01,109.039 L289.29,108.838 L289.58,108.638 L289.87,108.440 L290.16,108.242 L290.45,108.045 L290.75,107.849 L291.05,107.655 L291.36,107.461 L291.67,107.269 L291.98,107.078 L292.29,106.888 L292.60,106.699 L292.92,106.512 L293.24,106.325 L293.57,106.140 L293.90,105.956 L294.23,105.774 L294.56,105.593 L294.89,105.413 L295.23,105.234 L295.57,105.057 L295.92,104.881 L296.26,104.706 L296.61,104.533 L296.96,104.361 L297.32,104.191 L297.68,104.022 L298.04,103.854 L298.40,103.688 L298.76,103.524 L299.13,103.361 L299.50,103.199 L299.88,103.039 L300.25,102.881 L300.63,102.724 L301.01,102.568 L301.39,102.414 L301.78,102.262 L302.17,102.111 L302.56,101.961 L302.95,101.813 L303.35,101.666 L303.74,101.520 L304.14,101.376 L304.54,101.233 L304.95,101.092 L305.35,100.952 L305.76,100.813 L306.17,100.676 L306.59,100.540 L307.00,100.406 L307.42,100.272 L307.83,100.140 L308.25,100.009 L308.68,99.880 L309.10,99.752 L309.53,99.625 L309.95,99.499 L310.38,99.375 L310.81,99.252 L311.25,99.130 L311.68,99.009 L312.12,98.890 L312.55,98.772 L312.99,98.655 L313.43,98.539 L313.88,98.424 L314.32,98.310 L314.76,98.198 L315.21,98.087 L315.66,97.977 L316.11,97.868 L316.56,97.760 L317.01,97.653 L317.46,97.547 L317.91,97.443 L318.37,97.339 L318.83,97.237 L319.28,97.135 L319.74,97.035 L320.20,96.935 L320.66,96.837 L321.12,96.740 L321.58,96.644 L322.05,96.548 L322.51,96.454 L322.98,96.361 L323.44,96.268 L323.91,96.177 L324.37,96.087 L324.84,95.997 L325.31,95.909 L325.78,95.821 L326.25,95.734 L326.72,95.648 L327.19,95.563 L327.66,95.479 L328.13,95.396 L328.60,95.314 L329.08,95.232 L329.55,95.152 L330.02,95.072 L330.50,94.993 L330.97,94.915 L331.44,94.838 L331.92,94.761 L332.39,94.685 L332.87,94.610 L333.35,94.536 L333.82,94.463 L334.30,94.390 L334.78,94.318 L335.25,94.247 L335.73,94.176 L336.21,94.106 L336.69,94.037 L337.17,93.968 L337.65,93.901 L338.13,93.833 L338.61,93.767 L339.09,93.701 L339.57,93.636 L340.05,93.571 L340.53,93.507 L341.01,93.444 L341.49,93.381 L341.98,93.319 L342.46,93.257 L342.94,93.196 L343.42,93.135 L343.91,93.075 L344.39,93.016 L344.87,92.957 L345.36,92.898 L345.84,92.840 L346.33,92.783 L346.81,92.726 L347.30,92.669 L347.78,92.613 L348.27,92.557 L348.75,92.502 L349.24,92.447 L349.73,92.393 L350.21,92.339 L350.70,92.285 L351.19,92.232 L351.67,92.179 L352.16,92.127 L352.65,92.075 L353.13,92.023 L353.62,91.971 L354.11,91.920 L354.60,91.869 L355.09,91.819 L355.57,91.769 L356.06,91.719 L356.55,91.669 L357.04,91.620 L357.53,91.571 L358.02,91.522 L358.51,91.473 L359.00,91.425 L359.49,91.376 L359.98,91.328 L360.47,91.280 L360.96,91.233 L361.45,91.185 L361.94,91.138 L362.43,91.091 L362.92,91.044 L363.41,90.997 L363.90,90.950 L364.39,90.903 L364.88,90.857 L365.37,90.810 L365.86,90.764 L366.35,90.717 L366.84,90.671 L367.33,90.625 L367.82,90.579 L368.31,90.533 L368.81,90.487 L369.30,90.441 L369.79,90.395 L370.28,90.349 L370.77,90.304 L371.26,90.258 L371.75,90.212 L372.24,90.167 L372.74,90.122 L373.23,90.077 L373.72,90.031 L374.21,89.986 L374.70,89.942 L375.19,89.897 L375.68,89.852 L376.18,89.807 L376.67,89.763 L377.16,89.719 L377.65,89.674 L378.14,89.630 L378.64,89.586 L379.13,89.542 L379.62,89.499 L380.11,89.455 L380.60,89.411 L381.10,89.368 L381.59,89.325 L382.08,89.282 L382.57,89.239 L383.07,89.196 L383.56,89.153 L384.05,89.110 L384.55,89.068 L385.04,89.026 L385.53,88.983 L386.02,88.941 L386.52,88.900 L387.01,88.858 L387.50,88.816 L388.00,88.775 L388.49,88.734 L388.98,88.693 L389.48,88.652 L389.97,88.611 L390.46,88.570 L390.96,88.530 L391.45,88.490 L391.94,88.450 L392.44,88.410 L392.93,88.370 L393.42,88.331 L393.92,88.291 L394.41,88.252 L394.90,88.213 L395.40,88.174 L395.89,88.136 L396.39,88.097 L396.88,88.059 L397.37,88.021 L397.87,87.983 L398.36,87.946 L398.86,87.908 L399.35,87.871 L399.85,87.834 L400.34,87.797 L400.83,87.761 L401.33,87.724 L401.82,87.688 L402.32,87.652 L402.81,87.616 L403.31,87.581 L403.80,87.546 L404.30,87.511 L404.79,87.476 L405.29,87.441 L405.78,87.407 L406.28,87.373 L406.77,87.339 L407.27,87.305 L407.76,87.272 L408.26,87.239 L408.75,87.206 L409.25,87.173 L409.75,87.140 L410.24,87.108 L410.74,87.076 L411.23,87.045 L411.73,87.013 L412.22,86.982 L412.72,86.951 L413.22,86.920 L413.71,86.890 L414.21,86.860 L414.70,86.830 L415.20,86.801 L415.70,86.771 L416.19,86.742 L416.69,86.713 L417.18,86.685 L417.68,86.657 L418.18,86.629 L418.67,86.601 L419.17,86.574 L419.67,86.547 L420.16,86.520 L420.66,86.494 L421.16,86.467 L421.65,86.442 L422.15,86.416 L422.65,86.391 L423.14,86.366 L423.64,86.341 L424.14,86.317 L424.64,86.293 L425.13,86.269 L425.63,86.245 L426.13,86.222 L426.63,86.200 L427.12,86.177 L427.50,86.160" stroke="#00f000"/>
<path d="M44.50,15.952 L44.80,16.144 L45.09,16.339 L45.38,16.538 L45.66,16.740 L45.94,16.946 L46.21,17.154 L46.47,17.365 L46.72,17.579 L46.96,17.796 L47.18,18.015 L47.39,18.237 L47.58,18.461 L47.75,18.688 L47.91,18.917 L48.04,19.149 L48.17,19.382 L48.28,19.618 L48.37,19.855 L48.46,20.094 L48.54,20.335 L48.61,20.577 L48.68,20.821 L48.74,21.067 L48.80,21.313 L48.86,21.559 L48.92,21.806 L48.99,22.052 L49.06,22.298 L49.13,22.542 L49.22,22.785 L49.32,23.026 L49.42,23.265 L49.55,23.501 L49.68,23.734 L49.84,23.963 L50.01,24.188 L50.21,24.409 L50.42,24.626 L50.67,24.837 L50.93,25.043 L51.23,25.242 L51.55,25.432 L51.89,25.611 L52.26,25.778 L52.65,25.931 L53.06,26.067 L53.50,26.187 L53.95,26.292 L54.42,26.382 L54.90,26.461 L55.39,26.529 L55.89,26.588 L56.39,26.638 L56.89,26.682 L57.39,26.721 L57.89,26.754 L58.39,26.783 L58.88,26.807 L59.38,26.828 L59.88,26.845 L60.37,26.860 L60.87,26.872 L61.37,26.882 L61.87,26.890 L62.36,26.898 L62.86,26.905 L63.36,26.912 L63.86,26.918 L64.36,26.925 L64.86,26.931 L65.36,26.937 L65.86,26.943 L66.36,26.949 L66.86,26.955 L67.37,26.961 L67.87,26.967 L68.37,26.973 L68.87,26.979 L69.37,26.985 L69.87,26.991 L70.37,26.997 L70.87,27.003 L71.37,27.009 L71.87,27.016 L72.37,27.022 L72.87,27.029 L73.37,27.036 L73.87,27.043 L74.37,27.050 L74.86,27.058 L75.36,27.066 L75.85,27.074 L76.35,27.082 L76.84,27.090 L77.33,27.098 L77.83,27.107 L78.32,27.116 L78.81,27.124 L79.31,27.133 L79.80,27.142 L80.29,27.151 L80.78,27.161 L81.27,27.170 L81.77,27.179 L82.26,27.188 L82.75,27.197 L83.24,27.207 L83.74,27.216 L84.23,27.225 L84.72,27.234 L85.22,27.244 L85.71,27.253 L86.20,27.262 L86.70,27.270 L87.20,27.279 L87.69,27.288 L88.19,27.297 L88.69,27.305 L89.19,27.313 L89.69,27.321 L90.19,27.329 L90.69,27.337 L91.19,27.345 L91.70,27.352 L92.20,27.360 L92.71,27.367 L93.21,27.375 L93.72,27.383 L94.23,27.390 L94.73,27.398 L95.24,27.407 L95.75,27.415 L96.26,27.424 L96.77,27.433 L97.28,27.442 L97.79,27.452 L98.30,27.462 L98.81,27.473 L99.32,27.484 L99.83,27.495 L100.34,27.508 L100.85,27.521 L101.36,27.534 L101.87,27.549 L102.38,27.564 L102.89,27.580 L103.40,27.596 L103.91,27.614 L104.42,27.632 L104.93,27.652 L105.44,27.672 L105.95,27.694 L106.45,27.716 L106.96,27.740 L107.47,27.765 L107.97,27.791 L108.47,27.818 L108.98,27.846 L109.48,27.876 L109.98,27.907 L110.48,27.940 L110.98,27.974 L111.48,28.009 L111.98,28.046 L112.48,28.084 L112.97,28.124 L113.47,28.166 L113.96,28.209 L114.45,28.254 L114.95,28.301 L115.43,28.349 L115.92,28.400 L116.41,28.452 L116.89,28.506 L117.38,28.562 L117.86,28.620 L118.34,28.680 L118.82,28.742 L119.29,28.806 L119.77,28.872 L120.24,28.940 L120.71,29.011 L121.18,29.084 L121.65,29.159 L122.11,29.237 L122.57,29.317 L123.03,29.399 L123.49,29.483 L123.95,29.571 L124.40,29.660 L124.85,29.753 L125.30,29.848 L125.75,29.945 L126.19,30.045 L126.63,30.148 L127.07,30.254 L127.51,30.363 L127.94,30.474 L128.37,30.588 L128.80,30.705 L129.22,30.825 L129.65,30.948 L130.07,31.073 L130.48,31.202 L130.90,31.332 L131.31,31.465 L131.72,31.601 L132.13,31.739 L132.53,31.879 L132.93,32.022 L133.33,32.166 L133.73,32.313 L134.12,32.462 L134.51,32.613 L134.90,32.766 L135.29,32.920 L135.68,33.076 L136.06,33.234 L136.44,33.394 L136.82,33.555 L137.20,33.718 L137.57,33.882 L137.95,34.048 L138.32,34.215 L138.68,34.383 L139.05,34.552 L139.42,34.722 L139.78,34.894 L140.14,35.066 L140.50,35.239 L140.86,35.413 L141.21,35.588 L141.56,35.764 L141.92,35.940 L142.27,36.117 L142.61,36.294 L142.96,36.472 L143.31,36.650 L143.65,36.829 L143.99,37.007 L144.33,37.187 L144.67,37.367 L145.01,37.547 L145.34,37.727 L145.68,37.909 L146.01,38.090 L146.34,38.272 L146.67,38.455 L147.00,38.638 L147.32,38.822 L147.65,39.006 L147.97,39.191 L148.29,39.377 L148.61,39.563 L148.93,39.750 L149.24,39.937 L149.56,40.125 L149.87,40.314 L150.18,40.503 L150.49,40.693 L150.80,40.884 L151.11,41.076 L151.41,41.268 L151.71,41.461 L152.01,41.655 L152.31,41.850 L152.61,42.045 L152.91,42.241 L153.20,42.438 L153.49,42.636 L153.78,42.835 L154.07,43.035 L154.36,43.235 L154.65,43.437 L154.93,43.639 L155.21,43.842 L155.49,44.046 L155.76,44.251 L156.04,44.456 L156.31,44.663 L156.58,44.870 L156.84,45.078 L157.11,45.287 L157.36,45.497 L157.62,45.708 L157.87,45.919 L158.12,46.131 L158.37,46.344 L158.61,46.558 L158.85,46.773 L159.09,46.989 L159.32,47.205 L159.55,47.422 L159.77,47.641 L159.99,47.859 L160.21,48.079 L160.42,48.300 L160.63,48.521 L160.83,48.743 L161.03,48.966 L161.22,49.189 L161.41,49.414 L161.59,49.639 L161.77,49.865 L161.94,50.092 L162.11,50.320 L162.27,50.548 L162.43,50.777 L162.58,51.007 L162.72,51.238 L162.86,51.470 L163.00,51.702 L163.12,51.935 L163.25,52.169 L163.36,52.403 L163.48,52.639 L163.58,52.874 L163.69,53.111 L163.79,53.348 L163.88,53.586 L163.97,53.824 L164.06,54.063 L164.15,54.303 L164.23,54.543 L164.31,54.783 L164.39,55.024 L164.47,55.265 L164.55,55.507 L164.62,55.749 L164.70,55.991 L164.77,56.234 L164.85,56.477 L164.92,56.720 L165.00,56.963 L165.08,57.207 L165.15,57.451 L165.23,57.695 L165.32,57.939 L165.40,58.184 L165.49,58.428 L165.58,58.673 L165.67,58.917 L165.76,59.162 L165.86,59.406 L165.97,59.650 L166.07,59.893 L166.18,60.136 L166.30,60.378 L166.42,60.619 L166.55,60.859 L166.68,61.098 L166.82,61.336 L166.96,61.572 L167.11,61.807 L167.26,62.041 L167.42,62.273 L167.59,62.502 L167.77,62.730 L167.95,62.956 L168.14,63.180 L168.34,63.402 L168.54,63.621 L168.76,63.837 L168.98,64.051 L169.21,64.262 L169.45,64.470 L169.70,64.675 L169.95,64.877 L170.22,65.076 L170.50,65.271 L170.79,65.463 L171.08,65.651 L171.39,65.835 L171.71,66.015 L172.04,66.192 L172.38,66.365 L172.73,66.534 L173.09,66.700 L173.46,66.864 L173.83,67.025 L174.21,67.184 L174.60,67.342 L174.99,67.498 L175.38,67.652 L175.77,67.807 L176.17,67.960 L176.57,68.114 L176.97,68.268 L177.37,68.422 L177.77,68.577 L178.16,68.734 L178.55,68.892 L178.94,69.052 L179.33,69.214 L179.70,69.379 L180.08,69.546 L180.44,69.716 L180.80,69.888 L181.16,70.062 L181.52,70.237 L181.87,70.412 L182.22,70.589 L182.56,70.765 L182.91,70.942 L183.26,71.118 L183.60,71.293 L183.95,71.466 L184.30,71.638 L184.66,71.808 L185.01,71.976 L185.37,72.141 L185.74,72.302 L186.10,72.461 L186.48,72.615 L186.86,72.765 L187.25,72.910 L187.65,73.051 L188.05,73.186 L188.47,73.317 L188.89,73.444 L189.31,73.567 L189.74,73.687 L190.18,73.804 L190.62,73.919 L191.06,74.031 L191.51,74.142 L191.96,74.252 L192.41,74.361 L192.86,74.470 L193.31,74.579 L193.76,74.689 L194.21,74.799 L194.66,74.910 L195.11,75.021 L195.55,75.134 L196.00,75.246 L196.45,75.359 L196.90,75.473 L197.34,75.586 L197.79,75.700 L198.24,75.815 L198.68,75.929 L199.13,76.044 L199.57,76.159 L200.02,76.274 L200.46,76.388 L200.91,76.503 L201.35,76.618 L201.80,76.732 L202.24,76.846 L202.69,76.960 L203.14,77.074 L203.58,77.187 L204.03,77.300 L204.47,77.413 L204.92,77.525 L205.37,77.636 L205.81,77.747 L206.26,77.857 L206.71,77.966 L207.16,78.076 L207.60,78.184 L208.05,78.292 L208.50,78.400 L208.95,78.507 L209.40,78.613 L209.85,78.719 L210.30,78.825 L210.75,78.930 L211.20,79.035 L211.65,79.139 L212.10,79.243 L212.56,79.346 L213.01,79.450 L213.46,79.552 L213.91,79.655 L214.36,79.757 L214.82,79.858 L215.27,79.960 L215.72,80.061 L216.17,80.162 L216.63,80.262 L217.08,80.362 L217.53,80.462 L217.99,80.562 L218.44,80.661 L218.90,80.760 L219.35,80.859 L219.81,80.958 L220.26,81.057 L220.71,81.155 L221.17,81.253 L221.62,81.351 L222.08,81.449 L222.53,81.547 L222.99,81.645 L223.44,81.742 L223.90,81.840 L224.35,81.937 L224.81,82.034 L225.27,82.131 L225.72,82.229 L226.18,82.326 L226.63,82.423 L227.09,82.520 L227.54,82.617 L228.00,82.714 L228.46,82.811 L228.91,82.908 L229.37,83.006 L229.82,83.103 L230.28,83.200 L230.73,83.298 L231.19,83.395 L231.65,83.493 L232.10,83.591 L232.56,83.689 L233.01,83.787 L233.47,83.885 L233.92,83.983 L234.38,84.082 L234.83,84.180 L235.29,84.279 L235.74,84.379 L236.20,84.478 L236.65,84.578 L237.11,84.677 L237.56,84.778 L238.02,84.878 L238.47,84.979 L238.93,85.080 L239.38,85.181 L239.84,85.283 L240.29,85.385 L240.74,85.487 L241.20,85.590 L241.65,85.693 L242.10,85.796 L242.56,85.900 L243.01,86.004 L243.46,86.109 L243.91,86.214 L244.37,86.319 L244.82,86.425 L245.27,86.532 L245.72,86.638 L246.17,86.745 L246.62,86.853 L247.07,86.961 L247.52,87.069 L247.97,87.178 L248.42,87.287 L248.87,87.397 L249.32,87.507 L249.77,87.618 L250.22,87.729 L250.67,87.840 L251.11,87.952 L251.56,88.065 L252.01,88.177 L252.45,88.291 L252.90,88.404 L253.35,88.518 L253.79,88.633 L254.23,88.748 L254.68,88.864 L255.12,88.980 L255.56,89.096 L256.01,89.213 L256.45,89.331 L256.89,89.449 L257.33,89.567 L257.77,89.686 L258.21,89.805 L258.65,89.925 L259.09,90.046 L259.53,90.166 L259.97,90.288 L260.40,90.410 L260.84,90.532 L261.27,90.655 L261.71,90.778 L262.14,90.902 L262.58,91.026 L263.01,91.151 L263.44,91.277 L263.87,91.403 L264.30,91.529 L264.74,91.656 L265.16,91.784 L265.59,91.912 L266.02,92.040 L266.45,92.169 L266.87,92.299 L267.30,92.429 L267.73,92.560 L268.15,92.691 L268.57,92.823 L268.99,92.955 L269.42,93.088 L269.84,93.221 L270.26,93.355 L270.68,93.490 L271.09,93.625 L271.51,93.761 L271.93,93.897 L272.34,94.034 L272.76,94.171 L273.17,94.309 L273.58,94.448 L274.00,94.587 L274.41,94.726 L274.82,94.867 L275.22,95.008 L275.63,95.149 L276.04,95.291 L276.44,95.434 L276.85,95.577 L277.25,95.721 L277.66,95.865 L278.06,96.010 L278.46,96.156 L278.86,96.302 L279.25,96.449 L279.65,96.596 L280.05,96.744 L280.44,96.893 L280.84,97.042 L281.23,97.192 L281.62,97.343 L282.01,97.494 L282.40,97.646 L282.79,97.798 L283.17,97.952 L283.56,98.105 L283.94,98.260 L284.33,98.415 L284.71,98.570 L285.09,98.727 L285.47,98.884 L285.85,99.041 L286.22,99.199 L286.60,99.358 L286.97,99.518 L287.35,99.678 L287.72,99.839 L288.09,100.001 L288.46,100.163 L288.82,100.326 L289.19,100.489 L289.56,100.654 L289.92,100.819 L290.28,100.984 L290.64,101.151 L291.00,101.318 L291.36,101.485 L291.71,101.654 L292.07,101.823 L292.42,101.992 L292.77,102.163 L293.12,102.334 L293.47,102.506 L293.82,102.679 L294.17,102.852 L294.51,103.026 L294.85,103.201 L295.19,103.376 L295.53,103.552 L295.87,103.729 L296.21,103.907 L296.54,104.085 L296.88,104.264 L297.21,104.444 L297.54,104.624 L297.87,104.806 L298.19,104.988 L298.52,105.171 L298.84,105.354 L299.16,105.538 L299.48,105.723 L299.80,105.909 L300.12,106.095 L300.43,106.283 L300.74,106.471 L301.06,106.660 L301.37,106.849 L301.67,107.039 L301.98,107.230 L302.28,107.422 L302.59,107.615 L302.89,107.808 L303.19,108.003 L303.48,108.197 L303.78,108.393 L304.07,108.590 L304.36,108.787 L304.65,108.985 L304.94,109.184 L305.23,109.384 L305.51,109.584 L305.79,109.786 L306.07,109.988 L306.35,110.191 L306.63,110.394 L306.90,110.599 L307.17,110.804 L307.44,111.011 L307.71,111.218 L307.98,111.426 L308.24,111.635 L308.50,111.845 L308.76,112.056 L309.02,112.268 L309.28,112.481 L309.53,112.695 L309.79,112.910 L310.04,113.126 L310.28,113.343 L310.53,113.561 L310.77,113.780 L311.02,114.000 L311.26,114.222 L311.49,114.444 L311.73,114.668 L311.96,114.893 L312.20,115.119 L312.43,115.347 L312.65,115.575 L312.88,115.805 L313.10,116.036 L313.32,116.268 L313.54,116.502 L313.76,116.737 L313.97,116.973 L314.19,117.211 L314.40,117.450 L314.61,117.689 L314.82,117.926 L315.03,118.161 L315.25,118.392 L315.47,118.618 L315.71,118.837 L315.95,119.048 L316.20,119.249 L316.46,119.440 L316.74,119.618 L317.03,119.783 L317.34,119.933 L317.67,120.067 L318.02,120.183 L318.40,120.280 L318.78,120.355 L319.18,120.405 L319.58,120.426 L319.97,120.417 L320.36,120.373 L320.72,120.292 L321.06,120.171 L321.38,120.013 L321.67,119.826 L321.95,119.616 L322.22,119.390 L322.48,119.154 L322.73,118.915 L322.99,118.678 L323.24,118.444 L323.49,118.214 L323.74,117.987 L323.99,117.763 L324.23,117.541 L324.48,117.322 L324.73,117.106 L324.98,116.891 L325.22,116.679 L325.47,116.468 L325.72,116.259 L325.97,116.052 L326.21,115.846 L326.46,115.642 L326.71,115.438 L326.96,115.235 L327.21,115.033 L327.47,114.831 L327.72,114.630 L327.97,114.429 L328.23,114.227 L328.49,114.026 L328.75,113.824 L329.01,113.622 L329.27,113.419 L329.53,113.216 L329.80,113.013 L330.06,112.810 L330.33,112.606 L330.60,112.402 L330.88,112.198 L331.15,111.994 L331.43,111.790 L331.70,111.586 L331.99,111.382 L332.27,111.178 L332.55,110.974 L332.84,110.771 L333.13,110.567 L333.42,110.365 L333.71,110.162 L334.00,109.960 L334.30,109.759 L334.60,109.558 L334.90,109.358 L335.20,109.158 L335.50,108.960 L335.81,108.761 L336.12,108.564 L336.43,108.368 L336.75,108.172 L337.06,107.978 L337.38,107.784 L337.70,107.592 L338.03,107.400 L338.35,107.210 L338.68,107.021 L339.01,106.834 L339.35,106.647 L339.68,106.463 L340.02,106.279 L340.36,106.097 L340.71,105.917 L341.05,105.738 L341.40,105.561 L341.75,105.385 L342.11,105.211 L342.46,105.039 L342.82,104.869 L343.19,104.701 L343.55,104.535 L343.92,104.370 L344.29,104.208 L344.67,104.048 L345.04,103.889 L345.42,103.733 L345.80,103.579 L346.19,103.426 L346.57,103.275 L346.96,103.126 L347.36,102.979 L347.75,102.834 L348.15,102.690 L348.55,102.549 L348.95,102.409 L349.35,102.270 L349.76,102.133 L350.17,101.998 L350.58,101.865 L350.99,101.733 L351.41,101.603 L351.82,101.474 L352.24,101.347 L352.66,101.221 L353.09,101.096 L353.51,100.973 L353.94,100.852 L354.37,100.732 L354.80,100.613 L355.23,100.496 L355.66,100.380 L356.10,100.265 L356.53,100.151 L356.97,100.039 L357.41,99.928 L357.86,99.818 L358.30,99.709 L358.74,99.601 L359.19,99.495 L359.64,99.389 L360.09,99.285 L360.54,99.182 L360.99,99.079 L361.44,98.978 L361.90,98.878 L362.35,98.778 L362.81,98.680 L363.26,98.582 L363.72,98.485 L364.18,98.389 L364.64,98.294 L365.10,98.200 L365.56,98.106 L366.03,98.013 L366.49,97.921 L366.95,97.829 L367.42,97.739 L367.89,97.648 L368.35,97.559 L368.82,97.470 L369.29,97.381 L369.75,97.293 L370.22,97.206 L370.69,97.119 L371.16,97.033 L371.63,96.946 L372.10,96.861 L372.57,96.776 L373.04,96.691 L373.51,96.606 L373.98,96.522 L374.45,96.438 L374.93,96.354 L375.40,96.271 L375.87,96.188 L376.34,96.105 L376.81,96.023 L377.28,95.941 L377.76,95.859 L378.23,95.778 L378.70,95.697 L379.17,95.616 L379.65,95.536 L380.12,95.455 L380.59,95.376 L381.07,95.296 L381.54,95.217 L382.02,95.139 L382.49,95.060 L382.96,94.982 L383.44,94.904 L383.91,94.827 L384.39,94.750 L384.86,94.673 L385.34,94.597 L385.81,94.521 L386.29,94.445 L386.77,94.370 L387.24,94.295 L387.72,94.220 L388.19,94.146 L388.67,94.072 L389.15,93.999 L389.63,93.926 L390.10,93.853 L390.58,93.780 L391.06,93.708 L391.54,93.637 L392.01,93.565 L392.49,93.494 L392.97,93.424 L393.45,93.354 L393.93,93.284 L394.41,93.214 L394.88,93.145 L395.36,93.077 L395.84,93.008 L396.32,92.940 L396.80,92.873 L397.28,92.806 L397.76,92.739 L398.24,92.672 L398.72,92.606 L399.21,92.541 L399.69,92.476 L400.17,92.411 L400.65,92.346 L401.13,92.282 L401.61,92.219 L402.09,92.155 L402.58,92.093 L403.06,92.030 L403.54,91.968 L404.03,91.906 L404.51,91.845 L404.99,91.784 L405.48,91.724 L405.96,91.664 L406.44,91.604 L406.93,91.545 L407.41,91.487 L407.90,91.428 L408.38,91.370 L408.87,91.313 L409.35,91.256 L409.84,91.199 L410.32,91.143 L410.81,91.087 L411.29,91.032 L411.78,90.977 L412.27,90.922 L412.75,90.868 L413.24,90.815 L413.73,90.762 L414.21,90.709 L414.70,90.657 L415.19,90.605 L415.68,90.553 L416.16,90.502 L416.65,90.452 L417.14,90.402 L417.63,90.352 L418.12,90.303 L418.61,90.254 L419.10,90.206 L419.59,90.158 L420.08,90.111 L420.57,90.064 L421.06,90.017 L421.55,89.971 L422.04,89.926 L422.53,89.881 L423.02,89.836 L423.51,89.792 L424.00,89.748 L424.49,89.705 L424.99,89.662 L425.48,89.620 L425.97,89.578 L426.46,89.537 L426.96,89.496 L427.45,89.456 L427.47,89.454" stroke="#f20000"/>
</g></g>
<g class="sans" font-size="11" fill="#996633" style="fill:#996633">
<text class="sans" x="128" y="175.6" style="fill:#996633">250 GeV</text>
<text class="sans" x="214" y="199.2" style="fill:#996633">300 GeV</text>
<text class="sans" x="205" y="155.2" style="fill:#996633">360 GeV</text>
</g>
<path d="M44.5,25.45 H427.0 M44.5,261.35 H427.0" fill="none" stroke="#000" stroke-opacity="0.56" stroke-width="0.7"/>
<path d="M44.5,25.45 V261.35 M427.0,25.45 V261.35" fill="none" stroke="#000" stroke-opacity="0.66" stroke-width="0.7"/>
<path d="M56.80,261.35 v-2.2 M56.80,25.45 v2.2 M72.22,261.35 v-2.2 M72.22,25.45 v2.2 M87.65,261.35 v-2.2 M87.65,25.45 v2.2 M103.08,261.35 v-2.2 M103.08,25.45 v2.2 M118.50,261.35 v-4.5 M118.50,25.45 v4.5 M133.93,261.35 v-2.2 M133.93,25.45 v2.2 M149.35,261.35 v-2.2 M149.35,25.45 v2.2 M164.78,261.35 v-2.2 M164.78,25.45 v2.2 M180.20,261.35 v-2.2 M180.20,25.45 v2.2 M195.62,261.35 v-4.5 M195.62,25.45 v4.5 M211.05,261.35 v-2.2 M211.05,25.45 v2.2 M226.47,261.35 v-2.2 M226.47,25.45 v2.2 M241.90,261.35 v-2.2 M241.90,25.45 v2.2 M257.32,261.35 v-2.2 M257.32,25.45 v2.2 M272.75,261.35 v-4.5 M272.75,25.45 v4.5 M288.18,261.35 v-2.2 M288.18,25.45 v2.2 M303.60,261.35 v-2.2 M303.60,25.45 v2.2 M319.02,261.35 v-2.2 M319.02,25.45 v2.2 M334.45,261.35 v-2.2 M334.45,25.45 v2.2 M349.88,261.35 v-4.5 M349.88,25.45 v4.5 M365.30,261.35 v-2.2 M365.30,25.45 v2.2 M380.73,261.35 v-2.2 M380.73,25.45 v2.2 M396.15,261.35 v-2.2 M396.15,25.45 v2.2 M411.57,261.35 v-2.2 M411.57,25.45 v2.2 M427.00,261.35 v-4.5 M427.00,25.45 v4.5 M44.5,25.45 h4.5 M427.0,25.45 h-4.5 M44.5,84.42 h4.5 M427.0,84.42 h-4.5 M44.5,66.67 h2.2 M427.0,66.67 h-2.2 M44.5,56.29 h2.2 M427.0,56.29 h-2.2 M44.5,48.92 h2.2 M427.0,48.92 h-2.2 M44.5,43.20 h2.2 M427.0,43.20 h-2.2 M44.5,38.53 h2.2 M427.0,38.53 h-2.2 M44.5,34.59 h2.2 M427.0,34.59 h-2.2 M44.5,31.17 h2.2 M427.0,31.17 h-2.2 M44.5,28.15 h2.2 M427.0,28.15 h-2.2 M44.5,143.40 h4.5 M427.0,143.40 h-4.5 M44.5,125.65 h2.2 M427.0,125.65 h-2.2 M44.5,115.26 h2.2 M427.0,115.26 h-2.2 M44.5,107.89 h2.2 M427.0,107.89 h-2.2 M44.5,102.18 h2.2 M427.0,102.18 h-2.2 M44.5,97.51 h2.2 M427.0,97.51 h-2.2 M44.5,93.56 h2.2 M427.0,93.56 h-2.2 M44.5,90.14 h2.2 M427.0,90.14 h-2.2 M44.5,87.12 h2.2 M427.0,87.12 h-2.2 M44.5,202.38 h4.5 M427.0,202.38 h-4.5 M44.5,184.62 h2.2 M427.0,184.62 h-2.2 M44.5,174.24 h2.2 M427.0,174.24 h-2.2 M44.5,166.87 h2.2 M427.0,166.87 h-2.2 M44.5,161.15 h2.2 M427.0,161.15 h-2.2 M44.5,156.48 h2.2 M427.0,156.48 h-2.2 M44.5,152.54 h2.2 M427.0,152.54 h-2.2 M44.5,149.12 h2.2 M427.0,149.12 h-2.2 M44.5,146.10 h2.2 M427.0,146.10 h-2.2 M44.5,261.35 h4.5 M427.0,261.35 h-4.5 M44.5,243.60 h2.2 M427.0,243.60 h-2.2 M44.5,233.21 h2.2 M427.0,233.21 h-2.2 M44.5,225.84 h2.2 M427.0,225.84 h-2.2 M44.5,220.13 h2.2 M427.0,220.13 h-2.2 M44.5,215.46 h2.2 M427.0,215.46 h-2.2 M44.5,211.51 h2.2 M427.0,211.51 h-2.2 M44.5,208.09 h2.2 M427.0,208.09 h-2.2 M44.5,205.07 h2.2 M427.0,205.07 h-2.2 M44.5,25.45 h4.5 M427.0,25.45 h-4.5" fill="none" stroke="#000" stroke-opacity="0.72" stroke-width="0.7"/>
<g font-size="10.9"><text x="118.50" y="275.2" text-anchor="middle">50</text><text x="195.62" y="275.2" text-anchor="middle">100</text><text x="272.75" y="275.2" text-anchor="middle">150</text><text x="349.88" y="275.2" text-anchor="middle">200</text><text x="427.00" y="275.2" text-anchor="middle">250</text><text x="41.0" y="29.10" text-anchor="end">10</text><text x="41.0" y="88.08" text-anchor="end">1</text><text x="41.0" y="147.05" text-anchor="end">0.1</text><text x="41.0" y="206.03" text-anchor="end">0.01</text><text x="41.0" y="265.00" text-anchor="end">0.001</text></g>
<g font-size="14">
<text x="160.8" y="13.6">ctg</text>
<text x="178.3" y="13.6" font-style="italic">α</text>
<text x="186.6" y="13.6">=</text>
<text x="195.8" y="13.6">−</text>
<text x="205" y="13.6">0.014</text>
<text x="237.3" y="13.6">,</text>
<text x="262.4" y="13.6">tan</text>
<text x="279.6" y="13.6" font-style="italic">β</text>
<text x="288.4" y="13.6">=</text>
<text x="297.2" y="13.6">30</text>
</g>
<g transform="translate(12.2,149.8) rotate(-90)"><text font-size="12.6" font-style="italic" x="0" y="0" transform="scale(1.16,1)">λ</text><text font-size="9" font-style="italic" x="8.4" y="1.9">h</text></g>
<g>
<text class="sans" font-size="11" font-style="italic" x="214.0" y="291.9">m</text>
<text font-size="7.5" font-style="italic" x="223.2" y="293.3">D</text>
<text class="sans" font-size="11" x="229.3" y="291.9">(GeV)</text>
</g>
</svg>
</body></html>
